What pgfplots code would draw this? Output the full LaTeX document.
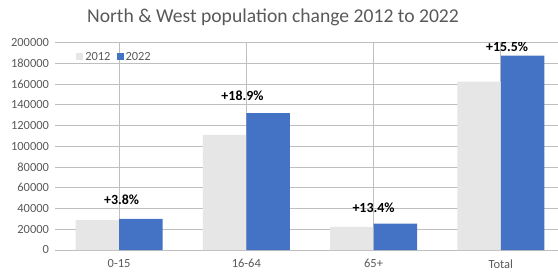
\documentclass[border=0pt]{standalone}
\usepackage{pgfplots}
\pgfplotsset{compat=1.18}
\usepackage{fontspec}
\setmainfont{Carlito}
\definecolor{c12}{HTML}{E7E6E6}
\definecolor{c22}{HTML}{4472C4}
\definecolor{txt}{HTML}{595959}
\definecolor{grid}{HTML}{D9D9D9}
\begin{document}
\begin{tikzpicture}
\path[use as bounding box] (-55.5bp,-25bp) rectangle (502.5bp,250bp);
\begin{axis}[
  at={(0,0)}, anchor=south west,
  scale only axis, width=502.5bp, height=207.4bp,
  ybar=0pt, bar width=43.5bp,
  xmin=-0.5, xmax=3.45, ymin=0, ymax=200000,
  xtick={0,1,2,3}, xticklabels={0-15,16-64,65+,Total},
  ytick={0,20000,...,200000},
  axis line style={draw=none},
  major tick length=0pt,
  ymajorgrids, grid style={grid, line width=0.8bp},
  scaled y ticks=false,
  /pgf/number format/assume math mode=true,
  yticklabel style={/pgf/number format/fixed, /pgf/number format/1000 sep={}, font=\fontsize{12.5}{14}\selectfont, text=txt, xshift=-3bp},
  xticklabel style={font=\fontsize{12.5}{14}\selectfont, text=txt, yshift=-6bp},
  legend style={at={(0.035,0.975)}, anchor=north west, draw=none, fill=none, legend columns=2, font=\fontsize{12.5}{14}\selectfont\color{txt}, /tikz/every even column/.append style={column sep=4bp}},
  legend image code/.code={\fill[#1] (0bp,-3.5bp) rectangle (7bp,3.5bp);},
  clip=true,
]
\addplot[fill=c12, draw=none] coordinates {(0,28900) (1,111000) (2,22400) (3,162300)};
\addplot[fill=c22, draw=none] coordinates {(0,30000) (1,132000) (2,25400) (3,187400)};
\legend{2012,2022}
\node[font=\fontsize{14}{16}\selectfont\bfseries] at (axis cs:0.02,48200) {+3.8\%};
\node[font=\fontsize{14}{16}\selectfont\bfseries] at (axis cs:0.97,148800) {+18.9\%};
\node[font=\fontsize{14}{16}\selectfont\bfseries] at (axis cs:2.0,40500) {+13.4\%};
\node[font=\fontsize{14}{16}\selectfont\bfseries] at (axis cs:3.05,195700) {+15.5\%};
\end{axis}
\node[font=\fontsize{19.7}{21}\selectfont, text=txt] at (217.5bp,233bp) {North \& West population change 2012 to 2022};
\end{tikzpicture}
\end{document}
